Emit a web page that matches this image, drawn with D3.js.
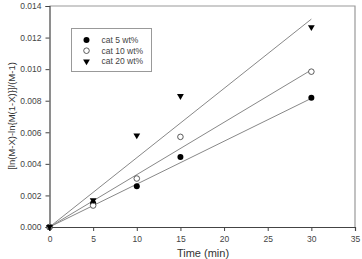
<!DOCTYPE html>
<html>
<head>
<meta charset="utf-8">
<script src="https://cdn.jsdelivr.net/npm/d3@7"></script>
<style>
  html, body { margin: 0; padding: 0; background: #fff; }
  svg { display: block; font-family: "Liberation Sans", Arial, sans-serif; }
</style>
</head>
<body>
<div id="chart"></div>
<script>
// --- 1. DATA ---
const times = [0, 5, 10, 15, 30];
const seriesNames = ["cat 5 wt%", "cat 10 wt%", "cat 20 wt%"];
const cat5 = [0, 0.0015, 0.00258, 0.00444, 0.00819];
const cat10 = [0, 0.00136, 0.00307, 0.00571, 0.00984];
const cat20 = [0, 0.0017, 0.0058, 0.0083, 0.01266];
// fitted lines through origin, value at t = 30 min
const fitEnd = [0.00815, 0.00995, 0.01317];
const xTicks = [0, 5, 10, 15, 20, 25, 30, 35];
const yTicks = [0, 0.002, 0.004, 0.006, 0.008, 0.010, 0.012, 0.014];

const series = [cat5, cat10, cat20];

// --- 2. SETUP ---
const W = 362, H = 259;
const margin = { top: 6, right: 7, bottom: 32, left: 49.5 };
const width = W - margin.left - margin.right;
const height = H - margin.top - margin.bottom;

const svg = d3.select("#chart").append("svg")
    .attr("width", W)
    .attr("height", H);

const g = svg.append("g")
    .attr("transform", `translate(${margin.left},${margin.top})`);

const x = d3.scaleLinear().domain([0, 35]).range([0, width]);
const y = d3.scaleLinear().domain([0, 0.014]).range([height, 0]);

// frame (top and right)
g.append("path")
    .attr("d", `M0,0H${width}V${height}`)
    .attr("fill", "none")
    .attr("stroke", "#999")
    .attr("stroke-width", 1.2);

// --- 3. AXES ---
const xAxis = g.append("g")
    .attr("transform", `translate(0,${height})`)
    .call(d3.axisBottom(x).tickValues(xTicks).tickSize(4).tickPadding(5).tickFormat(d3.format("d")));
const yAxis = g.append("g")
    .call(d3.axisLeft(y).tickValues(yTicks).tickSize(4).tickPadding(4).tickFormat(d3.format(".3f")));

[xAxis, yAxis].forEach(a => {
    a.select(".domain").attr("stroke", "#444").attr("stroke-width", 1.2);
    a.selectAll(".tick line").attr("stroke", "#444");
    a.selectAll(".tick text").attr("fill", "#444").style("font-size", "8.5px");
});

svg.append("text")
    .attr("x", 203)
    .attr("y", 257)
    .attr("text-anchor", "middle")
    .attr("fill", "#333")
    .style("font-size", "11px")
    .text("Time (min)");

svg.append("text")
    .attr("transform", "translate(15,116) rotate(-90)")
    .attr("text-anchor", "middle")
    .attr("fill", "#333")
    .style("font-size", "9.5px")
    .text("[ln(M-X)-ln{M(1-X)}]/(M-1)");

// --- 4. FIT LINES ---
g.selectAll(".fit")
    .data(fitEnd)
    .enter()
    .append("line")
    .attr("class", "fit")
    .attr("x1", x(0)).attr("y1", y(0))
    .attr("x2", x(30)).attr("y2", d => y(d))
    .attr("stroke", "#888")
    .attr("stroke-width", 1);

// --- 5. POINTS ---
const tri = d3.symbol().type(d3.symbolTriangle).size(20);

function drawMarker(sel, i) {
    if (i === 0) {
        sel.append("circle").attr("r", 3).attr("fill", "#000");
    } else if (i === 1) {
        sel.append("circle").attr("r", 2.8).attr("fill", "#fff").attr("stroke", "#333").attr("stroke-width", 0.8);
    } else {
        sel.append("path").attr("d", tri).attr("transform", "rotate(180)").attr("fill", "#000");
    }
}

series.forEach((vals, i) => {
    vals.forEach((v, j) => {
        const m = g.append("g")
            .attr("transform", `translate(${x(times[j])},${y(v)})`);
        drawMarker(m, i);
    });
});

// --- 6. LEGEND ---
const legend = svg.append("g").attr("transform", "translate(71.5,28.5)");
legend.append("rect")
    .attr("width", 80)
    .attr("height", 43)
    .attr("fill", "#fff")
    .attr("stroke", "#999")
    .attr("stroke-width", 1);

seriesNames.forEach((name, i) => {
    const row = legend.append("g").attr("transform", `translate(15,${11.5 + i * 10.7})`);
    drawMarker(row, i);
    row.append("text")
        .attr("x", 15)
        .attr("y", 3)
        .attr("fill", "#444")
        .style("font-size", "8.5px")
        .text(name);
});
</script>
</body>
</html>
